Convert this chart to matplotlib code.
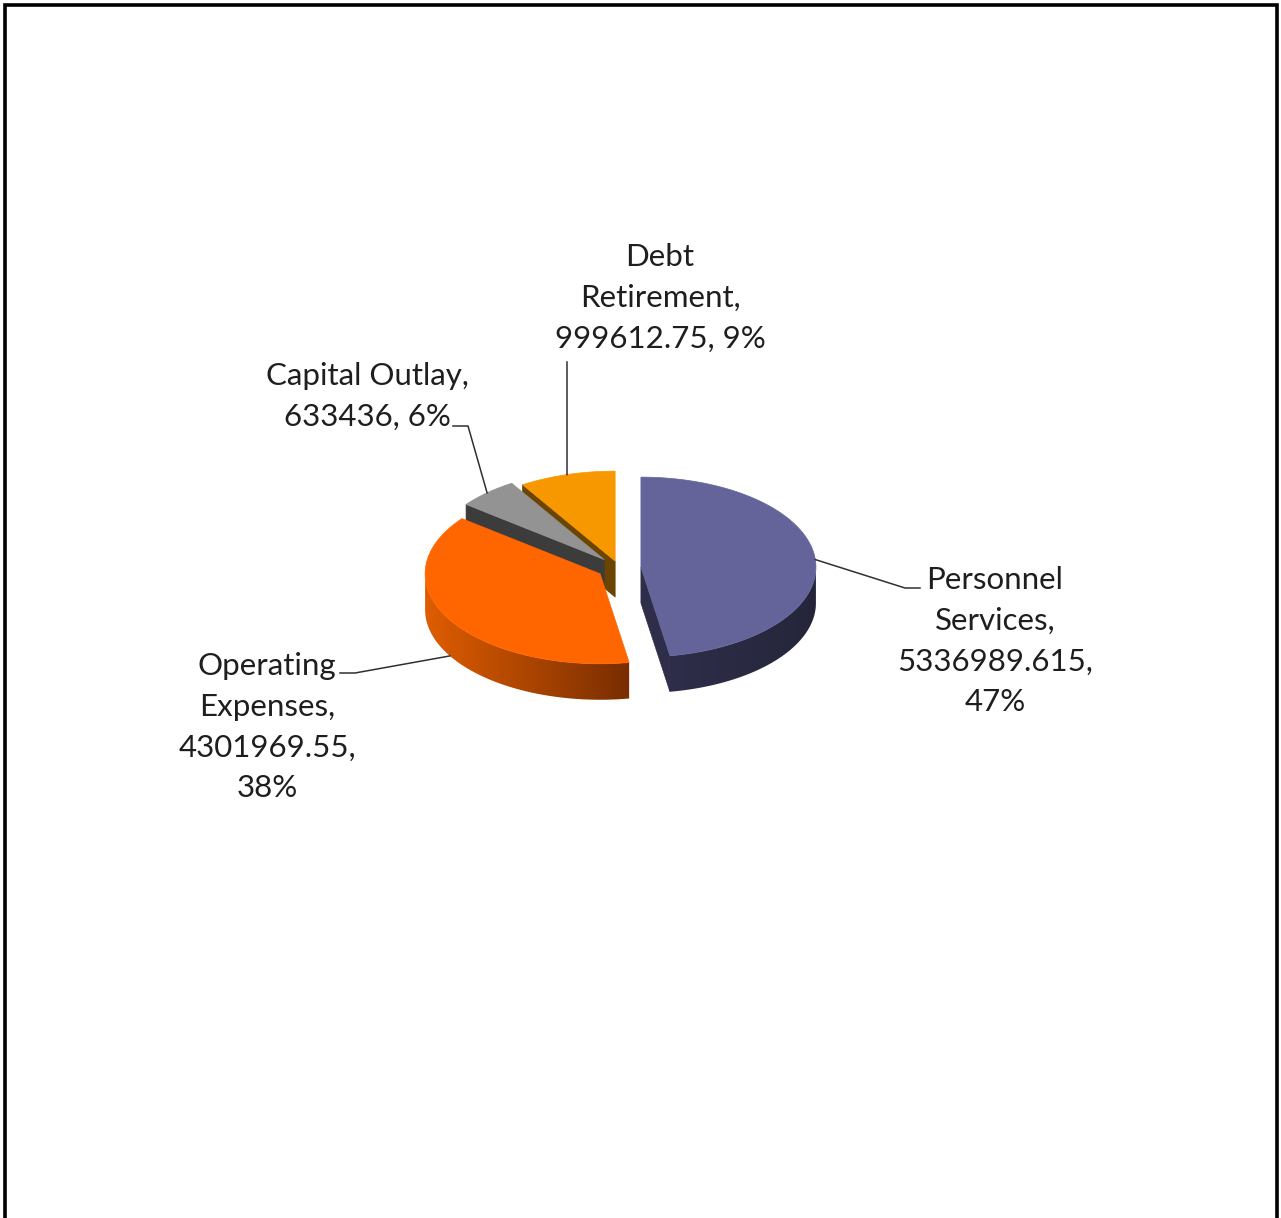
import numpy as np
import matplotlib.pyplot as plt
from matplotlib.patches import Polygon
from matplotlib.colors import to_rgb

plt.rcParams['font.family'] = ['Lato', 'DejaVu Sans']

# budget categories, clockwise from 12 o'clock
categories = ["Personnel Services", "Operating Expenses", "Capital Outlay", "Debt Retirement"]
values = [5336989.615, 4301969.55, 633436, 999612.75]
wrapped_names = ["Personnel\nServices", "Operating\nExpenses", "Capital Outlay", "Debt\nRetirement"]
pct_sep = [",\n", ",\n", ", ", ", "]

top_colors = ["#64649A", "#FF6600", "#939393", "#F79800"]
wall_light = ["#2E2E4A", "#E05D00", "#3C3C3C", "#6B4400"]
wall_dark = ["#25253A", "#782D00", "#3C3C3C", "#6B4400"]
explode = [22, 22, 22, 14]

# pie geometry in pixel units
CX, CY = 619, 568
R = 175
K = 0.514
H = 36

# label placement: text centre, then leader line points (anchor is added from the slice)
label_pos = [(995, 641), (267, 727), (367, 396), (660, 298)]
leader_pts = [[(905, 588), (920, 588)],
              [(355, 673), (340, 673)],
              [(468, 426), (453, 426)],
              [(567, 362)]]


def fmt(v):
    s = f"{v:.3f}".rstrip('0').rstrip('.')
    return s


def pt(apex, th, dy=0.0):
    t = np.radians(th)
    return (apex[0] + R * np.sin(t), apex[1] - R * K * np.cos(t) + dy)


total = sum(values)
fracs = [v / total for v in values]
ends = np.cumsum(fracs) * 360
starts = np.concatenate([[0], ends[:-1]])
mids = (starts + ends) / 2

apexes = []
for i in range(len(values)):
    t = np.radians(mids[i])
    apexes.append((CX + explode[i] * np.sin(t), CY - explode[i] * K * np.cos(t)))

fig = plt.figure(figsize=(12.81, 12.18), dpi=100)
ax = fig.add_axes([0, 0, 1, 1])
ax.set_xlim(0, 1281)
ax.set_ylim(1218, 0)
ax.axis('off')

# back slices first so nearer ones cover them
order = sorted(range(len(values)), key=lambda i: -np.cos(np.radians(mids[i])))
z = 1
for i in order:
    a, b = starts[i], ends[i]
    apex = apexes[i]

    # radial cut walls
    if np.sin(np.radians(a)) < -1e-6:
        p1, p2 = pt(apex, a), apex
        poly = [p1, p2, (p2[0], p2[1] + H), (p1[0], p1[1] + H)]
        ax.add_patch(Polygon(poly, closed=True, fc=wall_light[i], ec=wall_light[i], lw=0.5, zorder=z))
    if np.sin(np.radians(b)) > 1e-6:
        p1, p2 = apex, pt(apex, b)
        poly = [p1, p2, (p2[0], p2[1] + H), (p1[0], p1[1] + H)]
        ax.add_patch(Polygon(poly, closed=True, fc=wall_light[i], ec=wall_light[i], lw=0.5, zorder=z))

    # outer curved wall, shaded light on the left to dark on the right
    w0, w1 = max(a, 90), min(b, 270)
    if w1 > w0:
        ths = np.linspace(w0, w1, int((w1 - w0) * 2) + 2)
        top = [pt(apex, t) for t in ths]
        bot = [(p[0], p[1] + H) for p in top[::-1]]
        wall = Polygon(top + bot, closed=True, fc='none', ec='none', zorder=z)
        ax.add_patch(wall)
        xs = [p[0] for p in top]
        ys = [p[1] for p in top]
        x0, x1 = min(xs) - 1, max(xs) + 1
        grad = np.linspace(0, 1, 256)
        cols = np.array(to_rgb(wall_light[i]))[None, :] * (1 - grad[:, None]) + \
            np.array(to_rgb(wall_dark[i]))[None, :] * grad[:, None]
        im = ax.imshow(cols[None, :, :], extent=(x0, x1, max(ys) + H + 1, min(ys) - 1),
                       aspect='auto', interpolation='bilinear', zorder=z)
        im.set_clip_path(wall)

    # top face
    ths = np.linspace(a, b, int((b - a) * 2) + 2)
    poly = [apex] + [pt(apex, t) for t in ths]
    ax.add_patch(Polygon(poly, closed=True, fc=top_colors[i], ec=top_colors[i], lw=0.5, zorder=z + 0.5))
    z += 1

ax.set_xlim(0, 1281)
ax.set_ylim(1218, 0)

# data labels with leader lines
for i in range(len(values)):
    pct = round(fracs[i] * 100)
    txt = f"{wrapped_names[i]},\n{fmt(values[i])}{pct_sep[i]}{pct}%"
    ax.text(label_pos[i][0], label_pos[i][1], txt, ha='center', va='center',
            multialignment='center', fontsize=22.5, color='#1E1E1E', linespacing=1.55, zorder=10)
    anchor = pt(apexes[i], mids[i], H if np.cos(np.radians(mids[i])) < 0 else 0)
    pts = [anchor] + leader_pts[i]
    ax.plot([p[0] for p in pts], [p[1] for p in pts], color='#303030', lw=1.1, zorder=10)

# chart border (bottom edge runs off the image)
ax.plot([4.5, 4.5, 1276.5, 1276.5], [1230, 4.5, 4.5, 1230], color='black', lw=2.6,
        solid_joinstyle='miter', clip_on=False, zorder=11)

fig.savefig("out.png", dpi=100)
